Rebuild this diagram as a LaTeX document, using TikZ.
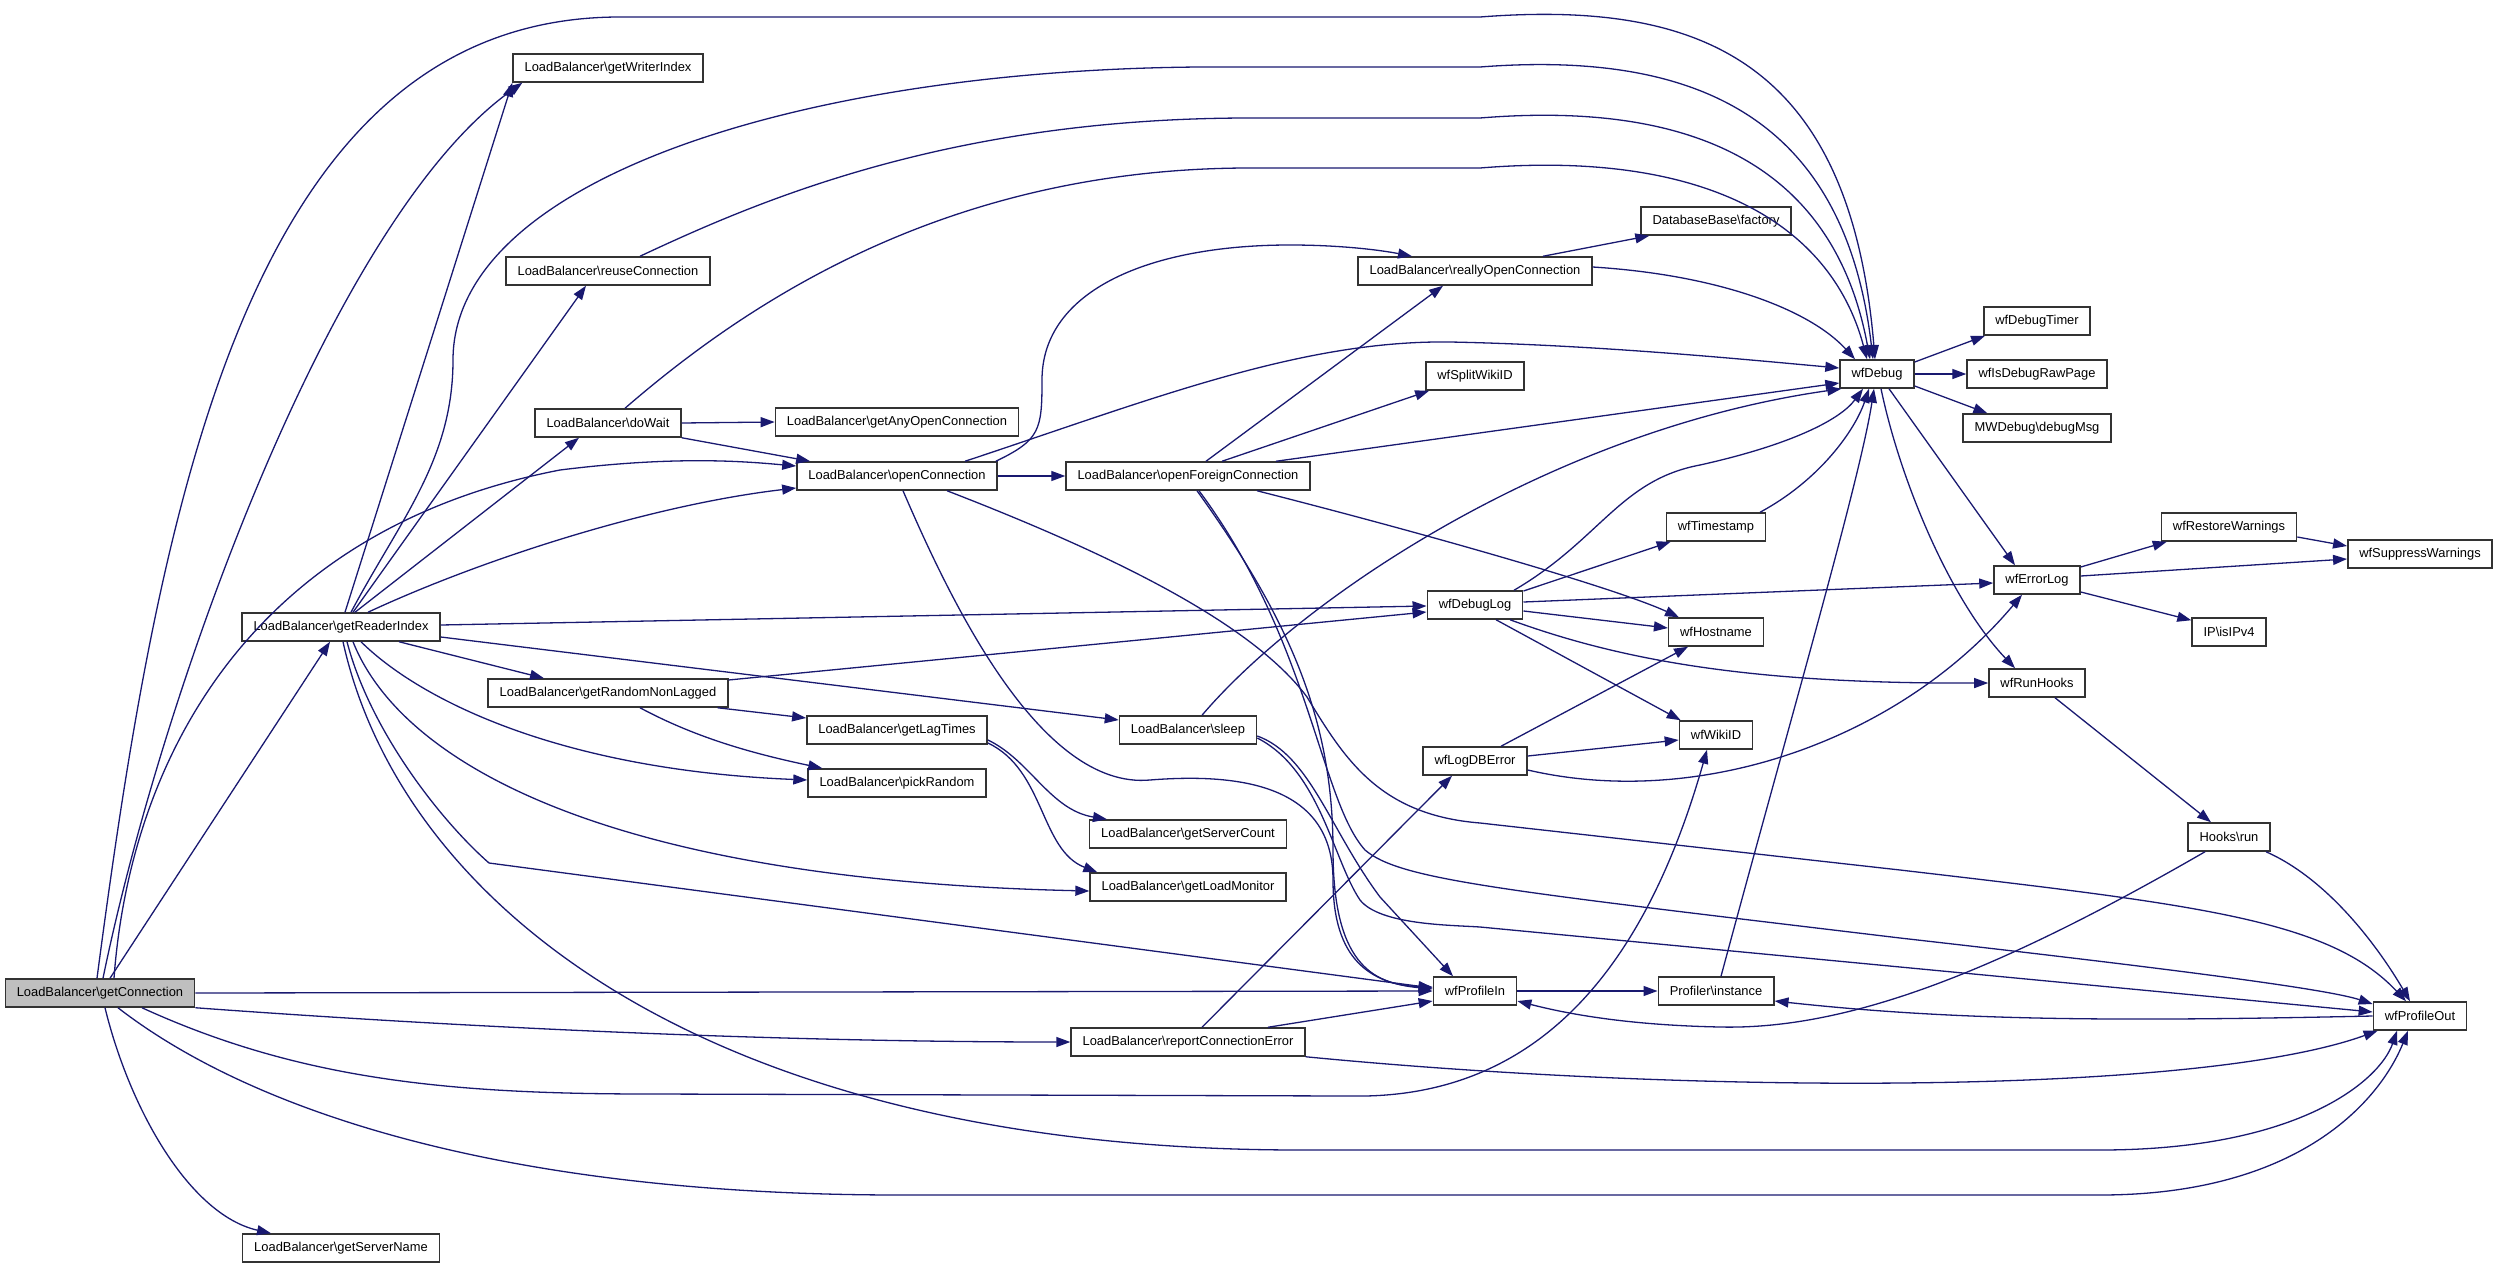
\documentclass[tikz,border=0pt]{standalone}
\usepackage{fontspec}
\setmainfont{Liberation Sans}
\usepackage{tikz}
\usetikzlibrary{arrows.meta}
\definecolor{edgeblue}{HTML}{191970}
\definecolor{rootgray}{HTML}{BFBFBF}

\begin{document}
\begin{tikzpicture}[x=1pt,y=-1pt]
\useasboundingbox (0,0) rectangle (2499,1268);
%\tikzstyle{fn}=[rectangle,draw,fill=white]
\begin{scope}[every node/.style={rectangle,draw=black!80,line width=1.5pt,fill=white,
              inner xsep=11.5pt,inner ysep=0pt,minimum height=28pt,
              font=\fontsize{12.9}{15}\selectfont}]
    \node[fill=rootgray] (gc) at (100,993) {LoadBalancer\textbackslash getConnection};
    \node (gsn) at (341,1248) {LoadBalancer\textbackslash getServerName};
    \node (gwi) at (608,68) {LoadBalancer\textbackslash getWriterIndex};
    \node (ruc) at (608,271) {LoadBalancer\textbackslash reuseConnection};
    \node (gri) at (341,627) {LoadBalancer\textbackslash getReaderIndex};
    \node (dw) at (608,423) {LoadBalancer\textbackslash doWait};
    \node (grnl) at (608,693) {LoadBalancer\textbackslash getRandomNonLagged};
    \node (gaoc) at (897,422) {LoadBalancer\textbackslash getAnyOpenConnection};
    \node (oc) at (897,476) {LoadBalancer\textbackslash openConnection};
    \node (glt) at (897,730) {LoadBalancer\textbackslash getLagTimes};
    \node (pr) at (897,783) {LoadBalancer\textbackslash pickRandom};
    \node (ofc) at (1188,476) {LoadBalancer\textbackslash openForeignConnection};
    \node (sl) at (1188,730) {LoadBalancer\textbackslash sleep};
    \node (gsc) at (1188,834) {LoadBalancer\textbackslash getServerCount};
    \node (glm) at (1188,887) {LoadBalancer\textbackslash getLoadMonitor};
    \node (rce) at (1188,1042) {LoadBalancer\textbackslash reportConnectionError};
    \node (roc) at (1475,271) {LoadBalancer\textbackslash reallyOpenConnection};
    \node (swi) at (1475,376) {wfSplitWikiID};
    \node (dbl) at (1475,605) {wfDebugLog};
    \node (ldb) at (1475,761) {wfLogDBError};
    \node (pin) at (1475,991) {wfProfileIn};
    \node (fac) at (1716,221) {DatabaseBase\textbackslash factory};
    \node (ts) at (1716,527) {wfTimestamp};
    \node (hn) at (1716,632) {wfHostname};
    \node (wid) at (1716,735) {wfWikiID};
    \node (pri) at (1716,991) {Profiler\textbackslash instance};
    \node (dbg) at (1877,374) {wfDebug};
    \node (dt) at (2037,321) {wfDebugTimer};
    \node (idr) at (2037,374) {wfIsDebugRawPage};
    \node (mwd) at (2037,428) {MWDebug\textbackslash debugMsg};
    \node (el) at (2037,580) {wfErrorLog};
    \node (rh) at (2037,683) {wfRunHooks};
    \node (rw) at (2229,527) {wfRestoreWarnings};
    \node (ip) at (2229,632) {IP\textbackslash isIPv4};
    \node (hr) at (2229,837) {Hooks\textbackslash run};
    \node (sw) at (2420,554) {wfSuppressWarnings};
    \node (pout) at (2420,1016) {wfProfileOut};
\end{scope}

\begin{scope}[>={Triangle[length=14pt,width=10pt]},
              color=edgeblue, line width=1.3pt,
              every edge/.style={draw=edgeblue}]
    % getConnection
    \draw[->] ([xshift=-3pt]gc.north) .. controls (160,500) and (250,17) .. (620,17) -- (1480,17) .. controls (1700,0) and (1850,60) .. ([xshift=-2pt]dbg.north);
    \draw[->] ([xshift=3pt]gc.north) .. controls (160,700) and (330,220) .. ([xshift=10pt]gwi.south west);
    \path [->] ([xshift=10pt]gc.north) edge ([xshift=-11pt]gri.south);
    \draw[->] ([xshift=14pt]gc.north) .. controls (130,760) and (250,530) .. (560,470) .. controls (680,455) and (750,462) .. ([yshift=10pt]oc.west);
    \path [->] (gc.east) edge (pin.west);
    \draw[->] (gc.south east) .. controls (500,1030) and (800,1042) .. (rce.west);
    \draw[->] ([xshift=42pt]gc.south) .. controls (300,1080) and (450,1094) .. (650,1094) -- (1350,1096) .. controls (1550,1100) and (1650,950) .. ([xshift=-9pt]wid.south);
    \draw[->] ([xshift=18pt]gc.south) .. controls (250,1110) and (500,1195) .. (900,1195) -- (2100,1195) .. controls (2300,1195) and (2380,1100) .. ([xshift=-12pt]pout.south);
    \draw[->] ([xshift=5pt]gc.south) .. controls (130,1110) and (190,1215) .. ([xshift=-70pt]gsn.north);

    % getReaderIndex
    \path [->] ([xshift=4pt]gri.north) edge (gwi.south west);
    \draw[->] ([xshift=10pt]gri.north) .. controls (400,520) and (453,460) .. (453,360) .. controls (453,180) and (800,70) .. (1200,67) -- (1480,67) .. controls (1700,50) and (1845,120) .. ([xshift=-4pt]dbg.north);
    \path [->] ([xshift=12pt]gri.north) edge ([xshift=-22pt]ruc.south);
    \path [->] ([xshift=14pt]gri.north) edge ([xshift=-29pt]dw.south);
    \draw[->] ([xshift=27pt]gri.north) .. controls (480,560) and (650,505) .. ([yshift=-12pt]oc.west);
    \path [->] ([yshift=2pt]gri.east) edge ([yshift=-1pt]dbl.west);
    \path [->] ([yshift=-10pt]gri.east) edge ([yshift=10pt]sl.west);
    \path [->] ([xshift=58pt]gri.south) edge ([xshift=-64pt]grnl.north);
    \draw[->] ([xshift=20pt]gri.south) .. controls (420,700) and (560,770) .. ([yshift=3pt]pr.west);
    \draw[->] ([xshift=12pt]gri.south) .. controls (400,760) and (600,880) .. ([yshift=-4pt]glm.west);
    \draw[->] ([xshift=6pt]gri.south) .. controls (370,730) and (440,820) .. (489,863) -- ([yshift=3pt]pin.west);
    \draw[->] ([xshift=2pt]gri.south) .. controls (400,900) and (700,1150) .. (1300,1150) -- (2100,1150) .. controls (2300,1150) and (2380,1080) .. ([xshift=-23pt]pout.south);

    % reuseConnection, doWait
    \draw[->] ([xshift=32pt]ruc.north) .. controls (760,200) and (950,118) .. (1250,118) -- (1480,118) .. controls (1700,100) and (1835,170) .. ([xshift=-7pt]dbg.north);
    \draw[->] ([xshift=17pt]dw.north) .. controls (750,300) and (950,168) .. (1250,168) -- (1480,168) .. controls (1700,150) and (1830,220) .. ([xshift=-10pt]dbg.north);
    \path [->] (dw.east) edge (gaoc.west);
    \path [->] (dw.south east) edge ([xshift=14pt]oc.north west);

    % openConnection
    \path [->] (oc.east) edge (ofc.west);
    \draw[->] ([xshift=-2pt]oc.north east) .. controls (1040,440) and (1042,430) .. (1042,380) .. controls (1042,290) and (1150,245) .. (1290,245) .. controls (1340,245) and (1380,250) .. ([xshift=-63pt]roc.north);
    \draw[->] ([xshift=68pt]oc.north) .. controls (1150,400) and (1300,340) .. (1450,342) .. controls (1600,345) and (1750,360) .. ([yshift=6pt]dbg.west);
    \draw[->] ([xshift=6pt]oc.south) .. controls (950,600) and (1040,790) .. (1150,780) .. controls (1250,772) and (1333,790) .. (1333,880) .. controls (1333,960) and (1370,983) .. ([yshift=2pt]pin.west);
    \draw[->] ([xshift=50pt]oc.south) .. controls (1100,550) and (1250,620) .. (1307,697) .. controls (1345,760) and (1380,815) .. (1480,823) -- (1900,870) .. controls (2200,905) and (2330,920) .. ([xshift=-14pt]pout.north);

    % openForeignConnection
    \path [->] ([xshift=18pt]ofc.north) edge ([xshift=-32pt]roc.south);
    \path [->] ([xshift=34pt]ofc.north) edge ([xshift=4pt]swi.south west);
    \path [->] ([xshift=88pt]ofc.north) edge ([yshift=-9pt]dbg.west);
    \draw[->] ([xshift=69pt]ofc.south) .. controls (1450,540) and (1620,590) .. ([xshift=-37pt]hn.north);
    \draw[->] ([xshift=9pt]ofc.south) .. controls (1290,620) and (1333,720) .. (1333,850) .. controls (1333,960) and (1370,985) .. ([yshift=4pt]pin.west);
    \draw[->] ([xshift=11pt]ofc.south) .. controls (1310,640) and (1320,800) .. (1365,850) .. controls (1400,880) and (1500,890) .. (1900,938) .. controls (2200,972) and (2330,990) .. ([yshift=12pt]pout.west);

    % sleep
    \draw[->] ([xshift=14pt]sl.north) .. controls (1300,600) and (1550,430) .. ([xshift=2pt]dbg.south west);
    \draw[->] ([yshift=-6pt]sl.east) .. controls (1310,755) and (1330,830) .. (1380,897) -- ([xshift=-22pt]pin.north);
    \draw[->] ([yshift=-8pt]sl.east) .. controls (1320,770) and (1333,860) .. (1360,900) .. controls (1380,925) and (1450,925) .. (1480,927) -- ([yshift=4pt]pout.west);

    % reallyOpenConnection
    \path [->] ([xshift=68pt]roc.north) edge ([xshift=9pt]fac.south west);
    \draw[->] ([yshift=4pt]roc.east) .. controls (1720,275) and (1810,310) .. ([xshift=-22pt]dbg.north);

    % wfDebug
    \path [->] ([yshift=12pt]dbg.east) edge ([xshift=2pt]dt.south west);
    \path [->] (dbg.east) edge (idr.west);
    \path [->] ([yshift=-12pt]dbg.east) edge ([xshift=25pt]mwd.north west);
    \path [->] ([xshift=12pt]dbg.south) edge ([xshift=-22pt]el.north);
    \draw[->] ([xshift=4pt]dbg.south) .. controls (1900,480) and (1950,600) .. ([xshift=-22pt]rh.north);

    % wfDebugLog
    \draw[->] ([xshift=39pt]dbl.north) .. controls (1600,540) and (1620,480) .. (1700,465) .. controls (1790,445) and (1840,420) .. ([xshift=-14pt]dbg.south);
    \path [->] ([yshift=14pt]dbl.east) edge ([xshift=5pt]ts.south west);
    \path [->] ([yshift=3pt]dbl.east) edge ([yshift=-3pt]el.west);
    \path [->] ([yshift=-6pt]dbl.east) edge ([yshift=4pt]hn.west);
    \path [->] ([xshift=21pt]dbl.south) edge ([xshift=2pt]wid.north west);
    \draw[->] ([xshift=35pt]dbl.south) .. controls (1620,660) and (1750,684) .. (rh.west);

    % wfTimestamp, Profiler\instance
    \draw[->] ([xshift=44pt]ts.north) .. controls (1820,480) and (1855,430) .. ([xshift=-8pt]dbg.south);
    \draw[->] ([xshift=5pt]pri.north) .. controls (1790,720) and (1860,480) .. ([xshift=-3pt]dbg.south);

    % wfLogDBError
    \path [->] ([xshift=26pt]ldb.north) edge ([xshift=-28pt]hn.south);
    \path [->] ([yshift=5pt]ldb.east) edge ([yshift=-5pt]wid.west);
    \draw[->] ([yshift=-9pt]ldb.east) .. controls (1700,810) and (1900,740) .. ([xshift=-15pt]el.south);

    % wfErrorLog
    \path [->] ([yshift=13pt]el.east) edge ([xshift=6pt]rw.south west);
    \path [->] ([yshift=4pt]el.east) edge ([yshift=-5pt]sw.west);
    \path [->] ([yshift=-12pt]el.east) edge ([yshift=-3pt]ip.north west);
    \path [->] ([yshift=-10pt]rw.east) edge ([yshift=8pt]sw.west);

    % hooks
    \path [->] ([xshift=18pt]rh.south) edge ([xshift=-18pt]hr.north);
    \draw[->] ([xshift=-24pt]hr.south) .. controls (2000,970) and (1850,1030) .. (1720,1027) .. controls (1620,1025) and (1560,1012) .. ([yshift=-10pt]pin.east);
    \draw[->] ([xshift=37pt]hr.south) .. controls (2330,880) and (2380,950) .. ([xshift=-10pt]pout.north);

    % profiling
    \path [->] (pin.east) edge (pri.west);
    \draw[->] (pout.west) .. controls (2100,1022) and (1950,1020) .. ([yshift=-10pt]pri.east);

    % reportConnectionError
    \path [->] ([xshift=14pt]rce.north) edge ([xshift=-23pt]ldb.south);
    \path [->] ([xshift=80pt]rce.north) edge ([yshift=-10pt]pin.west);
    \draw[->] (rce.south east) .. controls (1700,1095) and (2200,1095) .. ([xshift=5pt]pout.south west);

    % getRandomNonLagged, getLagTimes
    \path [->] ([xshift=-11pt]grnl.south east) edge ([yshift=12pt]glt.west);
    \draw[->] ([xshift=32pt]grnl.south) .. controls (700,740) and (760,755) .. ([xshift=15pt]pr.north west);
    \path [->] ([yshift=13pt]grnl.east) edge ([yshift=-7pt]dbl.west);
    \draw[->] ([yshift=-10pt]glt.east) .. controls (1030,760) and (1050,810) .. ([xshift=18pt]gsc.north west);
    \draw[->] ([yshift=-13pt]glt.east) .. controls (1045,770) and (1040,850) .. ([xshift=8pt]glm.north west);
\end{scope}
\end{tikzpicture}
\end{document}
